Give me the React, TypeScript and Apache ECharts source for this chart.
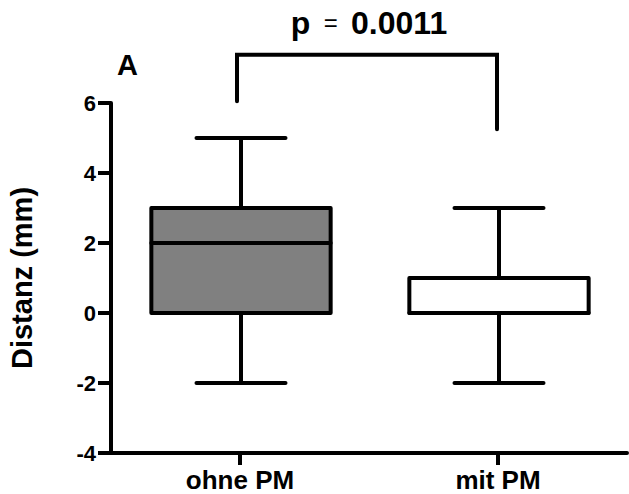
import React, { useEffect, useRef } from "react";
import * as echarts from "echarts";

const categories = ["ohne PM", "mit PM"];
// [min, q1, median, q3, max]
const boxStats = [
  [-2, 0, 2, 3, 5],
  [-2, 0, 0, 1, 3],
];
const boxFills = ["#808080", "#ffffff"];
const yTicks = { min: -4, max: 6, interval: 2 };
// bracket: [fromCat, toCat, leftFootValue, topValue, rightFootValue]
const bracket = [0, 1, 6.05, 7.38, 5.25];
const pText = "0.0011";
const panelLabel = "A";
const yName = "Distanz (mm)";

const FONT = "Arial, 'Liberation Sans', Helvetica, sans-serif";

export default function App() {
  const ref = useRef<HTMLDivElement>(null);
  useEffect(() => {
    if (!ref.current) return;
    document.body.style.margin = "0";
    const chart = echarts.init(ref.current, null, { renderer: "svg" });
    const boxData = boxStats.map((s, i) => [i, ...s]);
    chart.setOption({
      animation: false,
      backgroundColor: "#ffffff",
      textStyle: { fontFamily: FONT },
      title: {
        text: panelLabel,
        left: 117,
        top: 50,
        padding: 0,
        textStyle: { fontFamily: FONT, fontWeight: "bold", fontSize: 29, color: "#000" },
      },
      grid: { left: 111, right: 2, top: 103, bottom: 41, containLabel: false, outerBoundsMode: "none" },
      xAxis: {
        type: "category",
        data: categories,
        boundaryGap: true,
        axisLine: { show: true, onZero: false, lineStyle: { color: "#000", width: 4 } },
        axisTick: { show: true, alignWithLabel: true, length: 12, lineStyle: { color: "#000", width: 4 } },
        axisLabel: { color: "#000", fontFamily: FONT, fontWeight: "bold", fontSize: 26, margin: 14 },
        splitLine: { show: false },
      },
      yAxis: {
        type: "value",
        min: yTicks.min,
        max: yTicks.max,
        interval: yTicks.interval,
        name: yName,
        nameLocation: "middle",
        nameRotate: 90,
        nameGap: 75,
        nameTextStyle: { color: "#000", fontFamily: FONT, fontWeight: "bold", fontSize: 29 },
        axisLine: { show: true, onZero: false, lineStyle: { color: "#000", width: 4 } },
        axisTick: { show: true, length: 13, lineStyle: { color: "#000", width: 4 } },
        axisLabel: { color: "#000", fontFamily: FONT, fontWeight: "bold", fontSize: 22, margin: 15 },
        splitLine: { show: false },
      },
      series: [
        {
          type: "custom",
          data: boxData,
          renderItem: (params: any, api: any) => {
            const i = api.value(0);
            const mn = api.value(1), q1 = api.value(2), md = api.value(3), q3 = api.value(4), mx = api.value(5);
            const cx = api.coord([i, 0])[0] + 1;
            const band = api.size([1, 0])[0];
            const bw = band * 0.695;
            const cw = band * 0.345;
            const y = (v: number) => api.coord([i, v])[1];
            const ls = { stroke: "#000", lineWidth: 4, lineCap: "round" };
            const children: any[] = [
              { type: "line", shape: { x1: cx, y1: y(mn), x2: cx, y2: y(q1) }, style: ls },
              { type: "line", shape: { x1: cx, y1: y(q3), x2: cx, y2: y(mx) }, style: ls },
              { type: "line", shape: { x1: cx - cw / 2, y1: y(mn), x2: cx + cw / 2, y2: y(mn) }, style: ls },
              { type: "line", shape: { x1: cx - cw / 2, y1: y(mx), x2: cx + cw / 2, y2: y(mx) }, style: ls },
              {
                type: "rect",
                shape: { x: cx - bw / 2, y: y(q3), width: bw, height: y(q1) - y(q3) },
                style: { fill: boxFills[params.dataIndex], stroke: "#000", lineWidth: 4, lineJoin: "round" },
              },
              { type: "line", shape: { x1: cx - bw / 2, y1: y(md), x2: cx + bw / 2, y2: y(md) }, style: ls },
            ];
            return { type: "group", children };
          },
        },
        {
          type: "custom",
          data: [bracket],
          clip: false,
          renderItem: (params: any, api: any) => {
            const c0 = api.value(0), c1 = api.value(1);
            const vL = api.value(2), vT = api.value(3), vR = api.value(4);
            const pL = api.coord([c0, vL]);
            const pT = api.coord([c0, vT]);
            const pR = api.coord([c1, vR]);
            const xL = pL[0] - 3, xR = pR[0] - 1;
            return {
              type: "group",
              children: [
                {
                  type: "polyline",
                  shape: { points: [[xL, pL[1]], [xL, pT[1]], [xR, pT[1]], [xR, pR[1]]] },
                  style: { stroke: "#000", lineWidth: 4, fill: null, lineCap: "round", lineJoin: "miter" },
                },
                {
                  type: "text",
                  x: (xL + xR) / 2 + 2,
                  y: pT[1] - 16,
                  style: {
                    text: `{b|p}{e|  =  }{b|${pText}}`,
                    align: "center",
                    verticalAlign: "bottom",
                    rich: {
                      b: { fontFamily: FONT, fontWeight: "bold", fontSize: 32, fill: "#000", color: "#000" },
                      e: { fontFamily: FONT, fontWeight: "normal", fontSize: 24, fill: "#000", color: "#000" },
                    },
                  },
                },
              ],
            };
          },
        },
      ],
    });
    return () => chart.dispose();
  }, []);
  return <div ref={ref} style={{ width: 629, height: 494 }} />;
}
